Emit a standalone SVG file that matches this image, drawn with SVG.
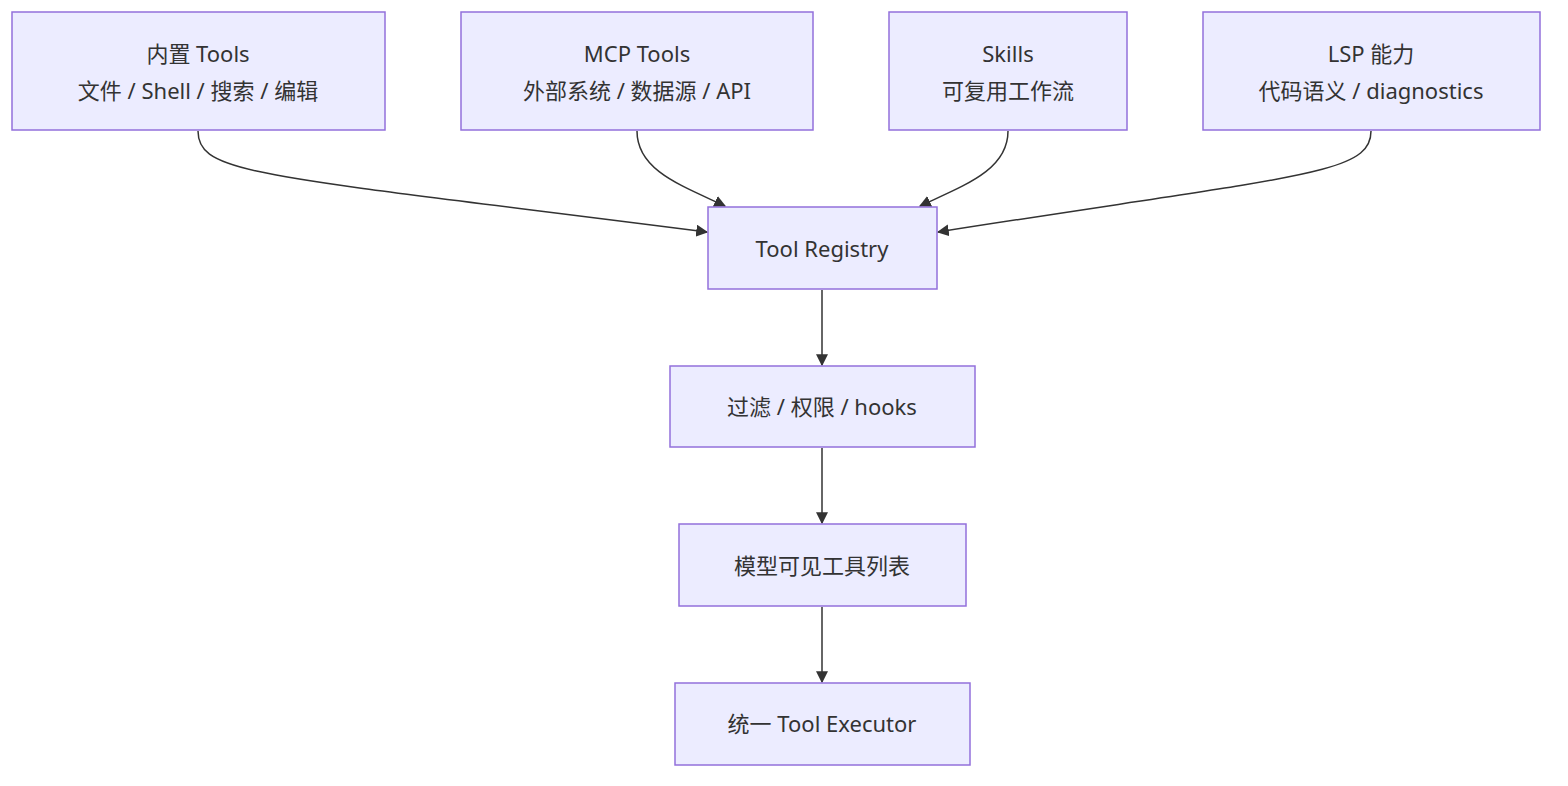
<svg xmlns="http://www.w3.org/2000/svg" width="1568" height="786" viewBox="0 0 1568 786">
<style>
.n rect{fill:#ECECFF;stroke:#9370DB;stroke-width:1.5}
.n text{font-family:"Noto Sans","Noto Sans CJK SC",sans-serif;font-size:22px;fill:#333;text-anchor:middle;dominant-baseline:central}
.e path{fill:none;stroke:#333;stroke-width:1.5;marker-end:url(#a)}
</style>
<defs><marker id="a" viewBox="0 0 10 10" refX="9" refY="5" markerWidth="8" markerHeight="8" orient="auto"><path d="M0,0L10,5L0,10z" fill="#333"/></marker></defs>
<rect width="1568" height="786" fill="#fff"/>
<g class="e">
<path d="M198,131 C198,175 260,175 707,232"/>
<path d="M637,131 C637,170 680,185 725,206"/>
<path d="M1008,131 C1008,170 965,185 920,206"/>
<path d="M1371,131 C1371,175 1300,175 938,232"/>
<path d="M822,290 L822,365"/>
<path d="M822,448 L822,523"/>
<path d="M822,607 L822,682"/>
</g>
<g id="n1" class="n"><rect x="12" y="12" width="373" height="118"/><text x="198" y="53">内置 Tools</text><text x="198" y="90">文件 / Shell / 搜索 / 编辑</text></g>
<g id="n2" class="n"><rect x="461" y="12" width="352" height="118"/><text x="637" y="53">MCP Tools</text><text x="637" y="90">外部系统 / 数据源 / API</text></g>
<g id="n3" class="n"><rect x="889" y="12" width="238" height="118"/><text x="1008" y="53">Skills</text><text x="1008" y="90">可复用工作流</text></g>
<g id="n4" class="n"><rect x="1203" y="12" width="337" height="118"/><text x="1371" y="53">LSP 能力</text><text x="1371" y="90">代码语义 / diagnostics</text></g>
<g id="reg" class="n"><rect x="708" y="207" width="229" height="82"/><text x="822" y="248">Tool Registry</text></g>
<g id="flt" class="n"><rect x="670" y="366" width="305" height="81"/><text x="822" y="406">过滤 / 权限 / hooks</text></g>
<g id="lst" class="n"><rect x="679" y="524" width="287" height="82"/><text x="822" y="565">模型可见工具列表</text></g>
<g id="exe" class="n"><rect x="675" y="683" width="295" height="82"/><text x="822" y="723">统一 Tool Executor</text></g>
</svg>
